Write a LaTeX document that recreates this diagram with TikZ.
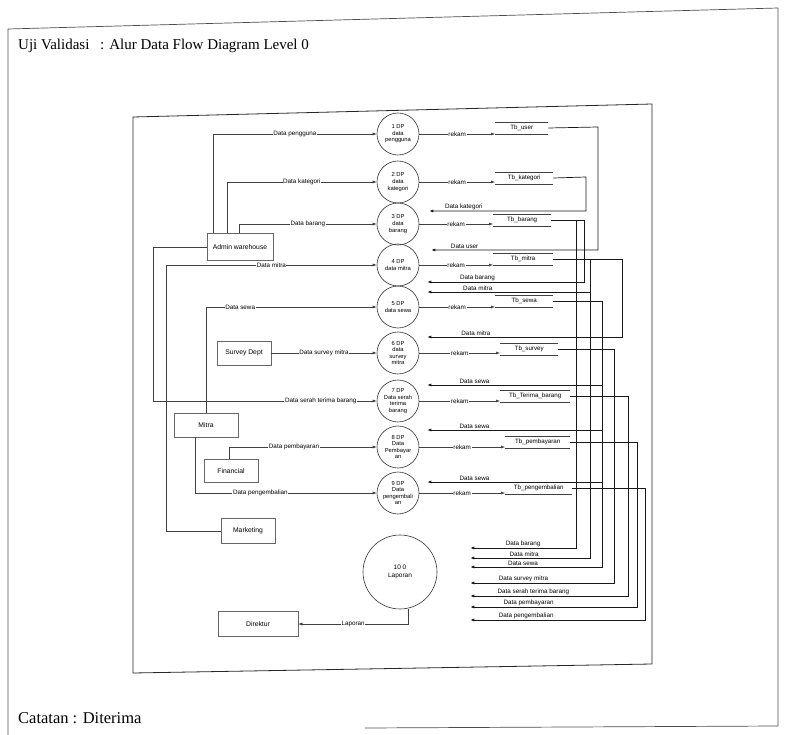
\documentclass[tikz,border=0pt]{standalone}
\usepackage{fontspec}
\setmainfont{Liberation Serif}
\newfontfamily\sfx{Liberation Sans}
\usetikzlibrary{arrows.meta,calc}
\tikzset{
 proc/.style={circle, draw=black!80, line width=0.6pt, minimum size=42, inner sep=0, align=center, font=\sfx\fontsize{5.8}{6.6}\selectfont},
 ent/.style={draw=black!60, line width=0.5pt, minimum height=24, inner sep=1, font=\sfx\fontsize{6.8}{8}\selectfont},
 store/.style={anchor=west, inner sep=1, minimum height=12, font=\sfx\fontsize{6.2}{7}\selectfont},
 con/.style={draw=black!75, line width=0.5pt},
 rcon/.style={draw=black!90, line width=0.7pt},
 arr/.style={con, -{Latex[length=4pt,width=3pt]}},
 rarr/.style={rcon, -{Latex[length=4pt,width=3pt]}},
 lab/.style={fill=white, inner sep=0.6pt, font=\sfx\fontsize{6.3}{7}\selectfont},
 tlab/.style={above, inner sep=0.8pt, font=\sfx\fontsize{6.3}{7}\selectfont},
 doc/.style={anchor=base west, inner sep=0, font=\fontsize{15}{17}\selectfont},
}
\begin{document}
\begin{tikzpicture}[x=1pt,y=-1pt]
\useasboundingbox (0,0) rectangle (790,735);
% page frame
\draw[black!70, line width=0.7pt] (8,735) -- (8,29) -- (778,8) -- (778,726) -- (365,728);
\node[doc] (t1) at (18,50) {Uji Validasi};
\node[doc] (t2) at (100,50) {: Alur Data Flow Diagram Level 0};
\node[doc, font=\fontsize{16.5}{18}\selectfont] (t3) at (18,723) {Catatan : Diterima};
% diagram frame
\draw[black!85, line width=0.8pt] (133,117) -- (652,104) -- (652,664) -- (133,673) -- cycle;

% processes
\node[proc] (c1) at (398,134) {1 DP\\data\\pengguna};
\node[proc] (c2) at (398,182) {2 DP\\data\\kategori};
\node[proc] (c3) at (398,224) {3 DP\\data\\barang};
\node[proc] (c4) at (398,265) {4 DP\\data mitra};
\node[proc] (c5) at (398,307) {5 DP\\data sewa};
\node[proc] (c6) at (398,353) {6 DP\\data\\survey\\mitra};
\node[proc] (c7) at (398,401) {7 DP\\Data serah\\terima\\barang};
\node[proc] (c8) at (398,447) {8 DP\\Data\\Pembayar\\an};
\node[proc] (c9) at (398,493) {9 DP\\Data\\pengembali\\an};
\node[proc, minimum size=74, font=\sfx\fontsize{6.5}{7.5}\selectfont] (c10) at (400,572) {10 0\\Laporan};

% external entities
\node[ent, minimum width=66, minimum height=27] (A) at (240,247) {Admin warehouse};
\node[ent, minimum width=54] (S) at (244,353) {Survey Dept};
\node[ent, minimum width=64] (Mi) at (206,425) {Mitra};
\node[ent, minimum width=54, minimum height=23] (F) at (231,471) {Financial};
\node[ent, minimum width=54, minimum height=25] (M) at (248,531) {Marketing};
\node[ent, minimum width=80, minimum height=25] (D) at (258,624) {Direktur};

% data stores
\node[store, minimum width=53] (s1) at (495,128) {Tb\_user};
\node[store, minimum width=58] (s2) at (495,178) {Tb\_kategori};
\node[store, minimum width=58] (s3) at (493,220) {Tb\_barang};
\node[store, minimum width=60] (s4) at (493,259) {Tb\_mitra};
\node[store, minimum width=58] (s5) at (495,301) {Tb\_sewa};
\node[store, minimum width=58] (s6) at (500,349) {Tb\_survey};
\node[store, minimum width=70] (s7) at (500,396) {Tb\_Terima\_barang};
\node[store, minimum width=65] (s8) at (505,442) {Tb\_pembayaran};
\node[store, minimum width=67] (s9) at (505,488) {Tb\_pengembalian};
\foreach \s in {s1,s2,s3,s4,s5,s6,s7,s8,s9}{
  \draw[con] (\s.north west) -- (\s.north east);
  \draw[con] (\s.south west) -- (\s.south east);
}

% left flows
\draw[arr] ([xshift=-27]A.north) |- node[lab,pos=0.75]{Data pengguna} (c1.west);
\draw[arr] ([xshift=-13]A.north) |- node[lab,pos=0.75]{Data kategori} (c2.west);
\draw[arr] ([xshift=-1]A.north) |- node[lab,pos=0.75]{Data barang} (c3.west);
\coordinate (mk) at (166,0);
\coordinate (ak) at (153,0);
\draw[arr] (M.west) -- (M.west -| mk) -- (mk |- c4.west) -- node[lab]{Data mitra} (c4.west);
\draw[arr] (A.west) -- (A.west -| ak) -- (ak |- c7.west) -- node[lab,pos=0.75]{Data serah terima barang} (c7.west);
\draw[arr] (Mi.north) |- node[lab,pos=0.6]{Data sewa} (c5.west);
\draw[arr] (S.east) -- node[lab]{Data survey mitra} (c6.west);
\draw[arr] ([xshift=-2]F.north) |- node[lab,pos=0.72]{Data pembayaran} (c8.west);
\draw[arr] ([xshift=-11]Mi.south) |- node[lab,pos=0.68]{Data pengembalian} (c9.west);
\draw[arr] ([xshift=8]c10.south) |- node[lab,pos=0.75]{Laporan} (D.east);

% rekam
\foreach \i in {1,...,9}
  \draw[arr] (c\i.east) -- node[lab]{rekam} (c\i.east -| s\i.west);

% Tb_user -> 4
\coordinate (u1) at (598,127); \coordinate (u2) at (598,250);
\draw[rarr] (s1.east) -- (u1) -- (u2) -- node[tlab,pos=0.8]{Data user} ([xshift=12]c4.east |- u2);
% Tb_kategori -> 3
\coordinate (k1) at (586,177); \coordinate (k2) at (586,211);
\draw[rarr] (s2.east) -- (k1) -- (k2) -- node[tlab,pos=0.78]{Data kategori} ([xshift=10]c3.east |- k2);
% Tb_barang
\coordinate (b1) at (576,220); \coordinate (b2) at (584,220);
\coordinate (b3) at (584,282); \coordinate (b4) at (576,548);
\draw[rcon] (s3.east) -- (b2);
\draw[rarr] (b2) -- (b3) -- node[tlab,pos=0.68]{Data barang} ([xshift=8]c5.east |- b3);
\draw[rarr] (b1) -- (b4) -- node[tlab,pos=0.5]{Data barang} ([xshift=33]c10.east |- b4);
% Tb_mitra
\coordinate (m1) at (590,259); \coordinate (m2) at (622,259);
\coordinate (m3) at (622,337); \coordinate (m4) at (590,292); \coordinate (m5) at (590,558);
\draw[rcon] (s4.east) -- (m2);
\draw[rarr] (m2) -- (m3) -- node[tlab,pos=0.75]{Data mitra} ([xshift=8]c6.east |- m3);
\draw[rarr] (m1) -- (m5) -- node[tlab,pos=0.55]{Data mitra} ([xshift=33]c10.east |- m5);
\draw[rarr] (m4) -- node[tlab,pos=0.69]{Data mitra} ([xshift=8]c5.east |- m4);
% Tb_sewa
\coordinate (w1) at (602,301); \coordinate (w7) at (602,385); \coordinate (w8) at (602,430);
\coordinate (w9) at (602,482); \coordinate (w10) at (602,567);
\draw[rcon] (s5.east) -- (w1);
\draw[rarr] (w1) -- (w10) -- node[tlab,pos=0.6]{Data sewa} ([xshift=33]c10.east |- w10);
\draw[rarr] (w7) -- node[tlab,pos=0.73]{Data sewa} ([xshift=8]c7.east |- w7);
\draw[rarr] (w8) -- node[tlab,pos=0.73]{Data sewa} ([xshift=8]c8.east |- w8);
\draw[rarr] (w9) -- node[tlab,pos=0.73]{Data sewa} ([xshift=8]c9.east |- w9);
% Tb_survey
\coordinate (v1) at (614,349); \coordinate (v2) at (614,583);
\draw[rarr] (s6.east) -- (v1) -- (v2) -- node[tlab,pos=0.63]{Data survey mitra} ([xshift=33]c10.east |- v2);
% Tb_Terima_barang
\coordinate (r1) at (628,396); \coordinate (r2) at (628,596);
\draw[rarr] (s7.east) -- (r1) -- (r2) -- node[tlab,pos=0.6]{Data serah terima barang} ([xshift=33]c10.east |- r2);
% Tb_pembayaran
\coordinate (p1) at (637,442); \coordinate (p2) at (637,607);
\draw[rarr] (s8.east) -- (p1) -- (p2) -- node[tlab,pos=0.65]{Data pembayaran} ([xshift=33]c10.east |- p2);
% Tb_pengembalian
\coordinate (g1) at (645,488); \coordinate (g2) at (645,620);
\draw[rarr] (s9.east) -- (g1) -- (g2) -- node[tlab,pos=0.68]{Data pengembalian} ([xshift=33]c10.east |- g2);
\end{tikzpicture}
\end{document}
